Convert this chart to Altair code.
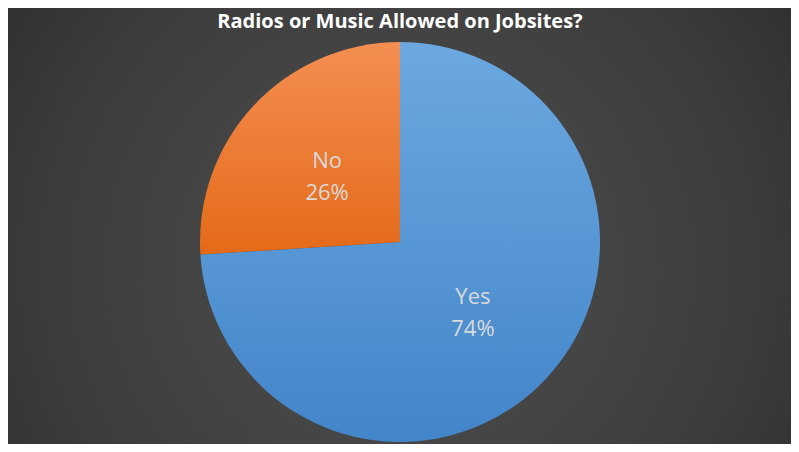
import altair as alt
import pandas as pd

categories = ["Yes", "No"]
values = [74, 26]
labels = ["Yes\n74%", "No\n26%"]
order = [1, 2]

title_text = "Radios or Music Allowed on Jobsites?"

W, H = 783, 436
CX, CY, R = 392, 234, 200

df = pd.DataFrame({"cat": categories, "value": values, "label": labels, "ord": order})
bg_df = pd.DataFrame({"k": [0]})

bg_grad = alt.Gradient(
    gradient="radial",
    stops=[alt.GradientStop(color="#505050", offset=0),
           alt.GradientStop(color="#3c3c3c", offset=0.6),
           alt.GradientStop(color="#262626", offset=1)],
    x1=0.5, y1=0.55, r1=0, x2=0.5, y2=0.55, r2=0.75,
)
blue_grad = alt.Gradient(
    gradient="linear",
    stops=[alt.GradientStop(color="#6ca8e0", offset=0),
           alt.GradientStop(color="#4285c9", offset=1)],
    x1=0, y1=0, x2=0, y2=1,
)
orange_grad = alt.Gradient(
    gradient="linear",
    stops=[alt.GradientStop(color="#f48e52", offset=0),
           alt.GradientStop(color="#e46a18", offset=1)],
    x1=0, y1=0, x2=0, y2=1,
)

bg = alt.Chart(bg_df).mark_rect(fill=bg_grad).encode(
    x=alt.value(0), x2=alt.value(W), y=alt.value(0), y2=alt.value(H)
)

pie = alt.Chart(df).mark_arc(x=CX, y=CY, radius=R).encode(
    theta=alt.Theta("value:Q", stack=True),
    order=alt.Order("ord:Q"),
    fill=alt.condition(alt.datum.cat == "Yes", alt.value(blue_grad), alt.value(orange_grad)),
)

text = alt.Chart(df).mark_text(
    x=CX, y=CY, radius=100, dy=-13, font="Open Sans", fontSize=22, color="#d9d9d9",
    lineBreak="\n", lineHeight=32, baseline="middle", align="center",
).encode(
    theta=alt.Theta("value:Q", stack=True),
    order=alt.Order("ord:Q"),
    text="label:N",
)

title = alt.Chart(bg_df).mark_text(
    font="Open Sans", fontSize=20, fontWeight="bold", color="#ffffff",
    baseline="middle", align="center", text=title_text,
).encode(x=alt.value(CX), y=alt.value(14))

chart = alt.layer(bg, pie, text, title).properties(
    width=W, height=H, padding=0,
    autosize=alt.AutoSizeParams(type="fit", contains="padding"),
    background="#333333",
).configure_view(stroke=None)

chart.save("out.html", embed_options={"renderer": "svg", "actions": False})
